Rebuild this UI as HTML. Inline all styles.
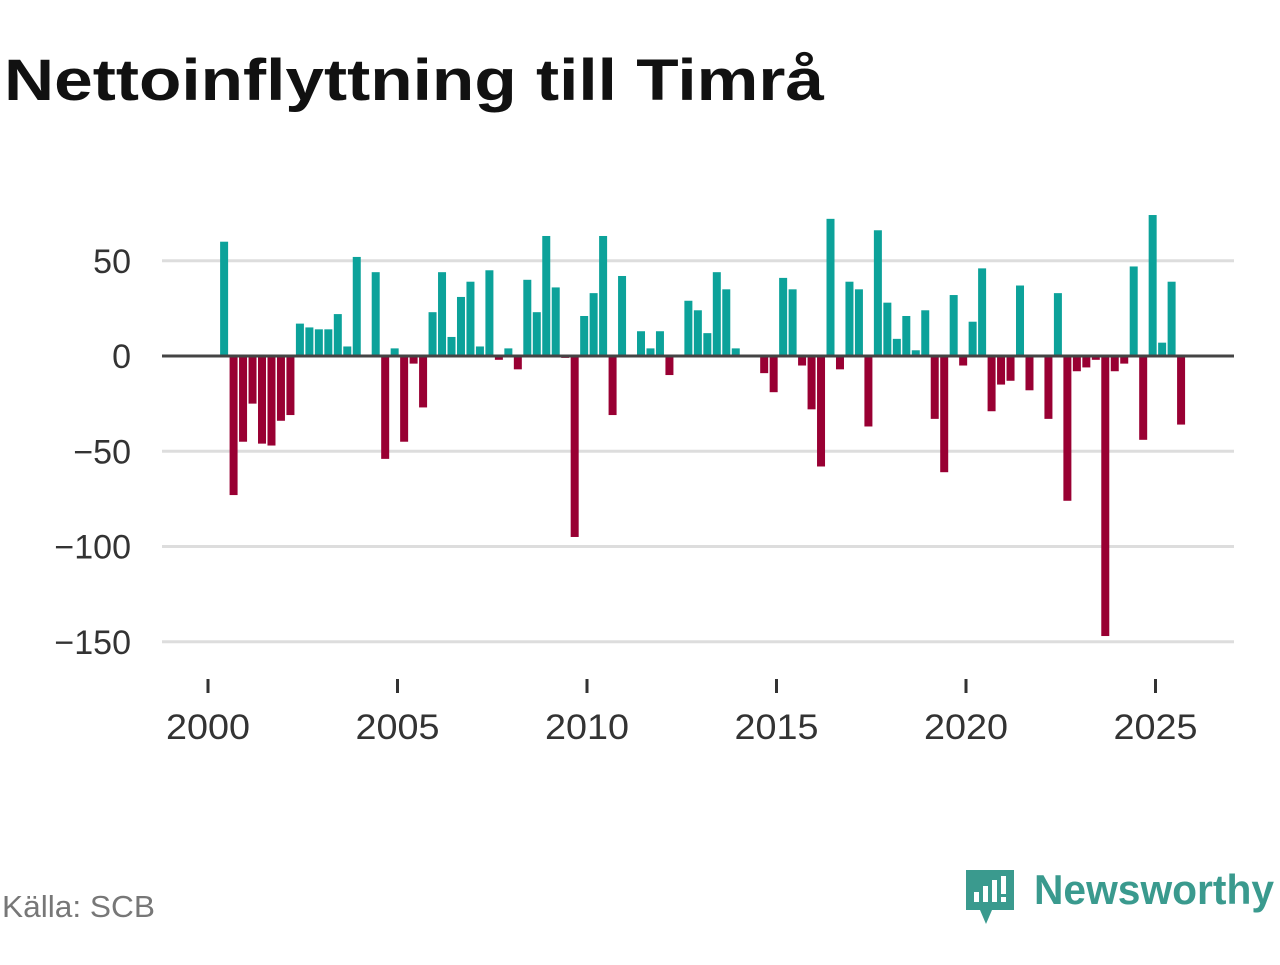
<!DOCTYPE html>
<html><head><meta charset="utf-8"><style>
body{margin:0;background:#fff;width:1280px;height:960px;overflow:hidden;font-family:"Liberation Sans",sans-serif;}
</style></head><body>
<svg width="1280" height="960" xmlns="http://www.w3.org/2000/svg">
<text x="4" y="100" font-size="58" font-weight="bold" fill="#111" textLength="820" lengthAdjust="spacingAndGlyphs" font-family="Liberation Sans, sans-serif">Nettoinflyttning till Timrå</text>
<g id="grid"></g><g id="bars"></g><g id="axes"></g>
<text x="2" y="917" font-size="31" fill="#777" textLength="153" lengthAdjust="spacingAndGlyphs">Källa: SCB</text>
<g>
<path d="M966 870 h48 v40 h-22 l-6 14 l-6 -14 h-14 z" fill="#3a9a8e"/>
<rect x="974" y="892" width="5" height="10" fill="#fff"/><rect x="983" y="886" width="5" height="16" fill="#fff"/><rect x="992" y="880" width="5" height="22" fill="#fff"/><rect x="1001" y="876" width="5" height="18" fill="#fff"/><rect x="1001" y="897" width="5" height="5" fill="#fff"/>
<text x="1034" y="904" font-size="42" font-weight="bold" fill="#3a9a8e" textLength="240" lengthAdjust="spacingAndGlyphs">Newsworthy</text>
</g>
</svg>
<script>
const values=[0,60,-73,-45,-25,-46,-47,-34,-31,17,15,14,14,22,5,52,0,44,-54,4,-45,-4,-27,23,44,10,31,39,5,45,-2,4,-7,40,23,63,36,-1,-95,21,33,63,-31,42,0,13,4,13,-10,0,29,24,12,44,35,4,0,0,-9,-19,41,35,-5,-28,-58,72,-7,39,35,-37,66,28,9,21,3,24,-33,-61,32,-5,18,46,-29,-15,-13,37,-18,0,-33,33,-76,-8,-6,-2,-147,-8,-4,47,-44,74,7,39,-36];
const yTicks=[50,0,-50,-100,-150];
const yTickLabels=["50","0","\u221250","\u2212100","\u2212150"];
const xTicks=[2000,2005,2010,2015,2020,2025];
const startYear=2000;
const NS="http://www.w3.org/2000/svg";
const x=v=>208+(v-2000)*37.9;
const y=v=>356-v*1.905;
const grid=document.getElementById('grid'),bars=document.getElementById('bars'),axes=document.getElementById('axes');
function mk(tag,attrs,parent){const e=document.createElementNS(NS,tag);for(const k in attrs)e.setAttribute(k,attrs[k]);parent.appendChild(e);return e;}
yTicks.forEach((t,i)=>{
 if(t!==0){const l=mk('line',{x1:162,x2:1234,y1:y(t),y2:y(t),stroke:'#ddd','stroke-width':3},grid);
 
 }
 const tx=mk('text',{x:131,y:y(t)+12,'font-size':34,fill:'#333','text-anchor':'end'},axes);
 tx.textContent=yTickLabels[i];
 
 
});
values.forEach((v,i)=>{
 const cx=x(startYear+(i+0.7)/4);
 if(v===0)return;
 const r=mk('rect',{x:cx-4,width:8,y:Math.min(y(v),y(0)),height:Math.abs(y(v)-y(0)),fill:v>0?'#0ca29a':'#990033'},bars);
 
 
});
const zl=mk('line',{x1:162,x2:1234,y1:y(0),y2:y(0),stroke:'#444','stroke-width':3},axes);


xTicks.forEach(t=>{
 const l=mk('line',{x1:x(t),x2:x(t),y1:679,y2:693,stroke:'#333','stroke-width':3},axes);
 
 
 const tx=mk('text',{x:x(t),y:739,'font-size':35,fill:'#333','text-anchor':'middle',textLength:84,lengthAdjust:'spacingAndGlyphs'},axes);
 tx.textContent=t;
 
 
});
</script>
</body></html>
